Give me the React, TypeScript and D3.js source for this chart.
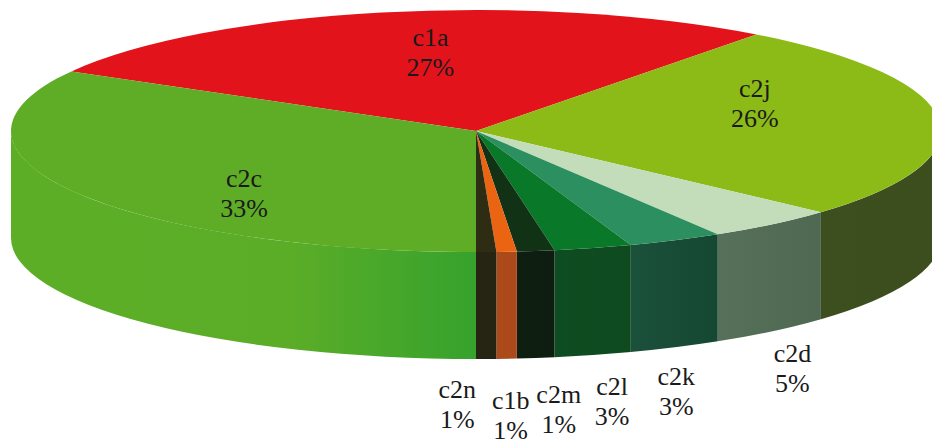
import React from "react";
import * as d3 from "d3";

// Slice categories and their shares (percent of total)
const categories = ["c1a", "c2j", "c2d", "c2k", "c2l", "c2m", "c1b", "c2n", "c2c"];
const shares = [27.1, 26.4, 4.6, 3.3, 2.7, 1.3, 0.7, 0.7, 33.2];

// Fill of each slice's top face
const topColors = [
  "#E3131C", "#8CBA17", "#C3DDBB", "#2C8F60", "#097829",
  "#113215", "#EB6412", "#2F2C14", "#5FAD26",
];
// Side wall shading, left to right
const wallColors: string[][] = [
  ["#B20F16", "#A00D14"],
  ["#3E4F1F", "#3D4E1E"],
  ["#577059", "#4E6851"],
  ["#1B503A", "#154832"],
  ["#0E4D21", "#0F4A1F"],
  ["#0E1F11", "#0D1E10"],
  ["#AD4A1A", "#AB491A"],
  ["#262413", "#262413"],
  ["#5DAE27", "#5BAD27", "#36A22D"],
];

// Label placement: inside labels sit on the top face, outside ones under the rim
const labelOutside = [false, false, true, true, true, true, true, true, false];
const labelNudge: number[][] = [
  [11, -5], [1, -18], [20, 5], [1, 12], [19, 14], [23, 19], [4, 24], [-29, 13], [9, 28],
];

const W = 932;
const H = 446;
const cx = 476;
const cy = 131;
const rx = 465;
const ry = 121;
const depth = 107;
const k = ry / rx;

export default function App() {
  const total = d3.sum(shares);
  const lastShare = shares[shares.length - 1];
  // Rotate so that the last slice begins straight toward the viewer
  const start = Math.PI - (2 * Math.PI * (total - lastShare)) / total;

  const pie = d3
    .pie<number>()
    .sort(null)
    .value((d) => d)
    .startAngle(start)
    .endAngle(start + 2 * Math.PI);
  const arcs = pie(shares);

  const arcGen = d3.arc<d3.PieArcDatum<number>>().innerRadius(0).outerRadius(rx);

  // Visible front wall of a slice, drawn in circle space (y scaled by k afterwards)
  const wallPath = (a0: number, a1: number) => {
    const lo = Math.PI / 2;
    const hi = (3 * Math.PI) / 2;
    const norm = (a: number) => ((a % (2 * Math.PI)) + 2 * Math.PI) % (2 * Math.PI);
    const s = norm(a0);
    const e = s + (a1 - a0);
    const pieces: [number, number][] = [];
    for (const off of [0, 2 * Math.PI, -2 * Math.PI]) {
      const ps = Math.max(s, lo + off);
      const pe = Math.min(e, hi + off);
      if (pe > ps) pieces.push([ps, pe]);
    }
    return pieces.map(([ps, pe]) => {
      const p = d3.path();
      const D = depth / k;
      const t0 = ps - Math.PI / 2;
      const t1 = pe - Math.PI / 2;
      p.moveTo(rx * Math.cos(t0), rx * Math.sin(t0));
      p.arc(0, 0, rx, t0, t1, false);
      p.lineTo(rx * Math.cos(t1), rx * Math.sin(t1) + D);
      p.arc(0, D, rx, t1, t0, true);
      p.closePath();
      return p.toString();
    });
  };

  const labels = arcs.map((a, i) => {
    const mid = (a.startAngle + a.endAngle) / 2;
    const sx = Math.sin(mid);
    const sy = -Math.cos(mid);
    let x: number;
    let y: number;
    if (labelOutside[i]) {
      x = cx + rx * sx;
      y = cy + ry * sy + depth + 35;
    } else {
      x = cx + 0.6 * rx * sx;
      y = cy + 0.6 * ry * sy;
    }
    const pct = Math.round((shares[i] / total) * 100);
    return {
      name: categories[i],
      text: `${pct}%`,
      x: x + labelNudge[i][0],
      y: y + labelNudge[i][1],
    };
  });

  return (
    <svg
      width={W}
      height={H}
      viewBox={`0 0 ${W} ${H}`}
      style={{ position: "fixed", left: 0, top: 0, background: "#fff", overflow: "hidden" }}
    >
      <defs>
        {wallColors.map((cols, i) => (
          <linearGradient key={i} id={`wall-${i}`} x1="0" x2="1" y1="0" y2="0">
            {cols.map((c, j) => (
              <stop
                key={j}
                offset={cols.length === 3 ? [0, 0.6, 1][j] : j}
                stopColor={c}
              />
            ))}
          </linearGradient>
        ))}
      </defs>
      <g transform={`translate(${cx},${cy}) scale(1,${k})`}>
        {arcs.map((a, i) =>
          wallPath(a.startAngle, a.endAngle).map((d, j) => (
            <path key={`w${i}-${j}`} d={d} fill={`url(#wall-${i})`} />
          ))
        )}
        {arcs.map((a, i) => (
          <path key={`t${i}`} d={arcGen(a) || ""} fill={topColors[i]} />
        ))}
      </g>
      <g fontFamily="'Liberation Serif', 'Times New Roman', serif" fontSize={26} fill="#1a1a1a">
        {labels.map((l) => (
          <g key={l.name} transform={`translate(${l.x},${l.y})`}>
            <text textAnchor="middle" y={-9}>{l.name}</text>
            <text textAnchor="middle" y={21}>{l.text}</text>
          </g>
        ))}
      </g>
    </svg>
  );
}
